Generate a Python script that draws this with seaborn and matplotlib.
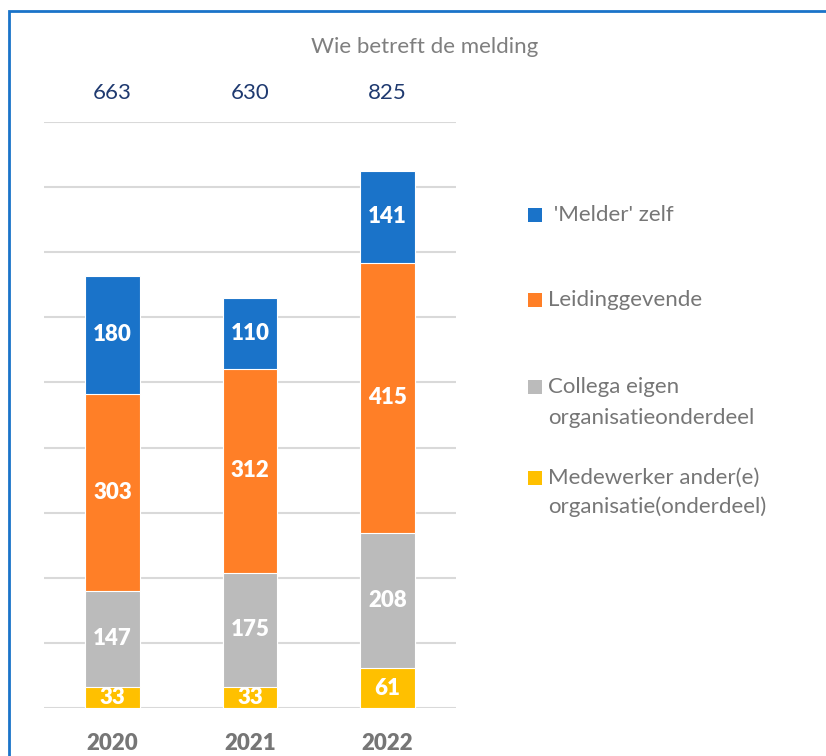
"""
Wie betreft de melding - stacked bar chart.
"""

import matplotlib
matplotlib.use("Agg")
import matplotlib.pyplot as plt
import matplotlib.transforms as mtransforms
from matplotlib.patches import Rectangle
import pandas as pd
import seaborn as sns


YEARS: list[str] = ["2020", "2021", "2022"]
MEDEWERKER: list[int] = [33, 33, 61]
COLLEGA: list[int] = [147, 175, 208]
LEIDINGGEVENDE: list[int] = [303, 312, 415]
MELDER: list[int] = [180, 110, 141]
TOTALS: list[int] = [663, 630, 825]

SERIES_NAMES: list[str] = [
    "Medewerker ander(e)\norganisatie(onderdeel)",
    "Collega eigen\norganisatieonderdeel",
    "Leidinggevende",
    " 'Melder' zelf",
]
COLORS: list[str] = ["#FFC000", "#BBBBBB", "#FF7F27", "#1A73C9"]

W, H = 826, 756


def main() -> None:
    sns.set_theme(style="white")
    plt.rcParams["font.family"] = ["Lato", "DejaVu Sans"]

    layers = [MEDEWERKER, COLLEGA, LEIDINGGEVENDE, MELDER]
    df = pd.DataFrame({"Jaar": YEARS})
    for name, vals in zip(SERIES_NAMES, layers):
        df[name] = vals

    fig = plt.figure(figsize=(W / 100, H / 100), dpi=100)
    ax = fig.add_axes([44 / W, 1 - 708 / H, 412 / W, 586 / H])

    # draw cumulative bars from the top layer down so they overlap
    cum = df[SERIES_NAMES].cumsum(axis=1)
    for idx in range(len(SERIES_NAMES) - 1, -1, -1):
        sns.barplot(
            x=df["Jaar"], y=cum[SERIES_NAMES[idx]], color=COLORS[idx],
            width=0.4, edgecolor="white", linewidth=0.8,
            saturation=1, ax=ax, zorder=3,
        )

    # segment labels
    for i in range(len(YEARS)):
        bottom = 0
        for idx, vals in enumerate(layers):
            v = vals[i]
            ax.text(i, bottom + v / 2, str(v), ha="center", va="center",
                    color="white", fontsize=16, fontweight="heavy", zorder=5)
            bottom += v

    ax.set_ylim(0, 900)
    ax.set_xlim(-0.5, 2.5)
    ax.set_yticks(range(0, 901, 100))
    ax.yaxis.grid(True, color="#D9D9D9", linewidth=1.5, zorder=0)
    ax.set_yticklabels([])
    ax.tick_params(axis="y", length=0)
    ax.tick_params(axis="x", length=0, pad=18, labelsize=16,
                   labelcolor="#767676")
    for lbl in ax.get_xticklabels():
        lbl.set_fontweight("heavy")
    ax.set_xlabel("")
    ax.set_ylabel("")
    for sp in ax.spines.values():
        sp.set_visible(False)

    # totals above plot
    trans = mtransforms.blended_transform_factory(ax.transData, fig.transFigure)
    for i, t in enumerate(TOTALS):
        ax.text(i, 1 - 93 / H, str(t), transform=trans, ha="center",
                va="center", fontsize=16, color="#1F3A70")

    fig.text(425 / W, 1 - 47 / H, "Wie betreft de melding", ha="center",
             va="center", fontsize=16, color="#7F7F7F")

    # legend
    legend_rows = [
        (3, [215]),
        (2, [300]),
        (1, [387, 418]),
        (0, [478, 507]),
    ]
    for idx, ys in legend_rows:
        fig.patches.append(Rectangle(
            (528 / W, 1 - (ys[0] + 7) / H), 14 / W, 14 / H,
            transform=fig.transFigure, facecolor=COLORS[idx],
            edgecolor="none"))
        for line, y in zip(SERIES_NAMES[idx].split("\n"), ys):
            fig.text(548 / W, 1 - y / H, line, ha="left", va="center",
                     fontsize=16, color="#767676")

    # frame
    fig.patches.append(Rectangle(
        (9 / W, -0.1), 2.0, 1.1 - 11 / H, transform=fig.transFigure,
        fill=False, edgecolor="#1A73C9", linewidth=2))

    fig.savefig("out.png", dpi=100)


if __name__ == "__main__":
    main()
